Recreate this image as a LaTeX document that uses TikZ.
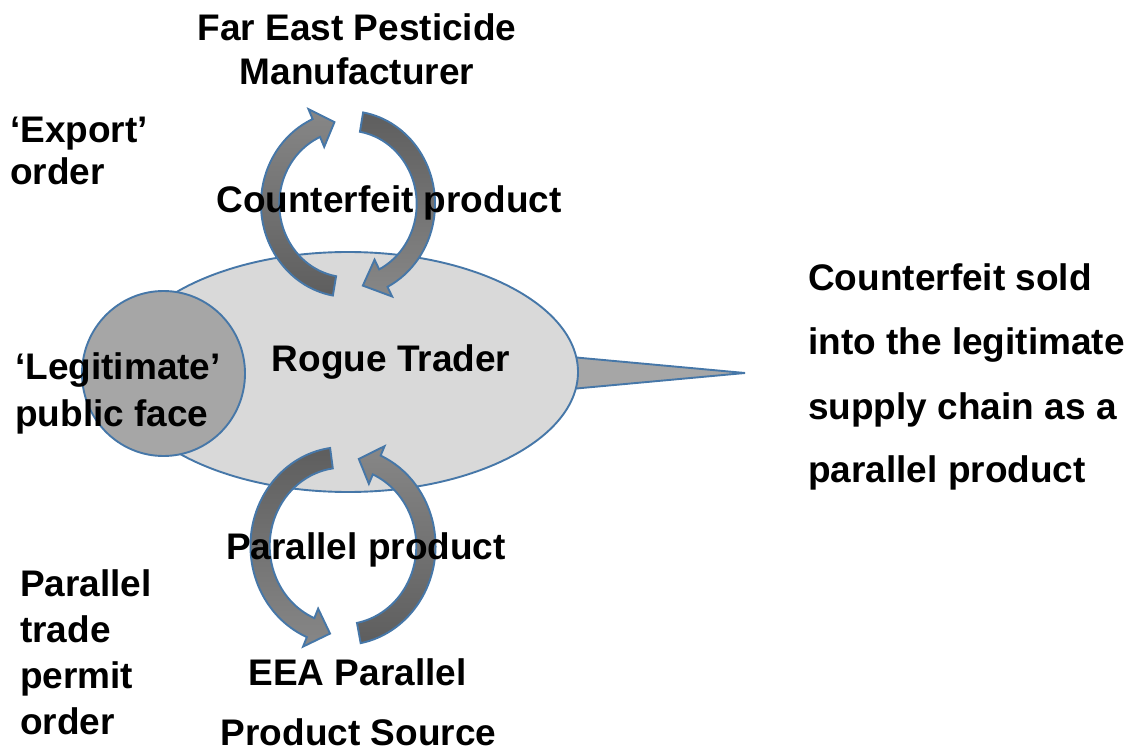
\documentclass[tikz,border=0pt]{standalone}
\usepackage{fontspec}
\setmainfont{Liberation Sans}
\usetikzlibrary{shapes.geometric}
\definecolor{rimblue}{HTML}{4677A8}
\definecolor{bodygray}{HTML}{D9D9D9}
\definecolor{facegray}{HTML}{A6A6A6}
\definecolor{arrowdark}{HTML}{5E5E5E}
\definecolor{arrowlight}{HTML}{878787}
% curved block arrow on a ring: #1 name, #2 tail angle, #3 head base angle,
% #4 tip angle, #5 top colour, #6 bottom colour
\newcommand{\ringarrow}[6]{%
  \path[ringstyle, top color=#5, bottom color=#6] (#2:\rOut)
    arc[start angle=#2, end angle=#3, radius=\rOut] -- (#3:\rHo) -- (#4:\rMid)
    -- (#3:\rHi) -- (#3:\rIn) arc[start angle=#3, end angle=#2, radius=\rIn] -- cycle
    node[coordinate] (#1) {};}
\tikzset{
  ringstyle/.style={draw=rimblue, line width=1.9pt, line join=miter},
  label/.style={font=\fontsize{37}{44}\selectfont\bfseries, inner sep=0pt},
}
\begin{document}
\begin{tikzpicture}[x=1pt, y=1pt]
\useasboundingbox (0,0) rectangle (1138,-751);

% pointer from the trader into the supply chain
\draw[fill=facegray, draw=rimblue, line width=1.9pt, line join=miter]
  (560,-356) -- (745,-373) -- (560,-390) -- cycle;
% the trader and its public face
\node[ellipse, draw=rimblue, fill=bodygray, line width=1.9pt, inner sep=0pt,
      minimum width=460, minimum height=240] (trader) at (348,-372) {};
\node[ellipse, draw=rimblue, fill=facegray, line width=1.9pt, inner sep=0pt,
      minimum width=163, minimum height=165] (face) at (163.5,-373.5) {};

% upper cycle: order out, counterfeit back
\begin{scope}[shift={(348,-204)}, xscale=0.967, yscale=1.033]
  \def\rOut{90}\def\rIn{71}\def\rMid{80.5}\def\rHo{100.5}\def\rHi{60.5}
  \ringarrow{upA}{260}{114}{100}{arrowlight}{arrowdark}
  \ringarrow{upB}{80}{-63}{-79}{arrowdark}{arrowlight}
\end{scope}

% lower cycle: permit order out, parallel product back
\begin{scope}[shift={(343,-546)}, xscale=0.964, yscale=1.031]
  \def\rOut{96}\def\rIn{76}\def\rMid{86}\def\rHo{106}\def\rHi{66}
  \ringarrow{lowA}{98}{247}{261}{arrowdark}{arrowlight}
  \ringarrow{lowB}{281}{426}{439}{arrowlight}{arrowdark}
\end{scope}

% texts
\node[label, anchor=base] (fe1) at (357,-41) {Far East Pesticide};
\node[label, anchor=base] (fe2) at (357,-85) {Manufacturer};
\node[label, anchor=base west] (ex1) at (10,-143) {‘Export’};
\node[label, anchor=base west] (ex2) at (10,-185) {order};
\node[label, anchor=base] (cp) at (389,-213) {Counterfeit product};
\node[label, anchor=base] (rt) at (391,-371) {Rogue Trader};
\node[label, anchor=base west] (lg1) at (15,-379) {‘Legitimate’};
\node[label, anchor=base west] (lg2) at (15,-426) {public face};
\node[label, anchor=base west] (cs1) at (808,-291) {Counterfeit sold};
\node[label, anchor=base west] (cs2) at (808,-354) {into the legitimate};
\node[label, anchor=base west] (cs3) at (808,-419) {supply chain as a};
\node[label, anchor=base west] (cs4) at (808,-482) {parallel product};
\node[label, anchor=base] (pp) at (366,-559) {Parallel product};
\node[label, anchor=base west] (pt1) at (20,-596) {Parallel};
\node[label, anchor=base west] (pt2) at (20,-642) {trade};
\node[label, anchor=base west] (pt3) at (20,-688) {permit};
\node[label, anchor=base west] (pt4) at (20,-734) {order};
\node[label, anchor=base] (eea1) at (357.5,-685) {EEA Parallel};
\node[label, anchor=base, text depth=0pt] (eea2) at (358.5,-745) {Product Source};
\end{tikzpicture}
\end{document}
